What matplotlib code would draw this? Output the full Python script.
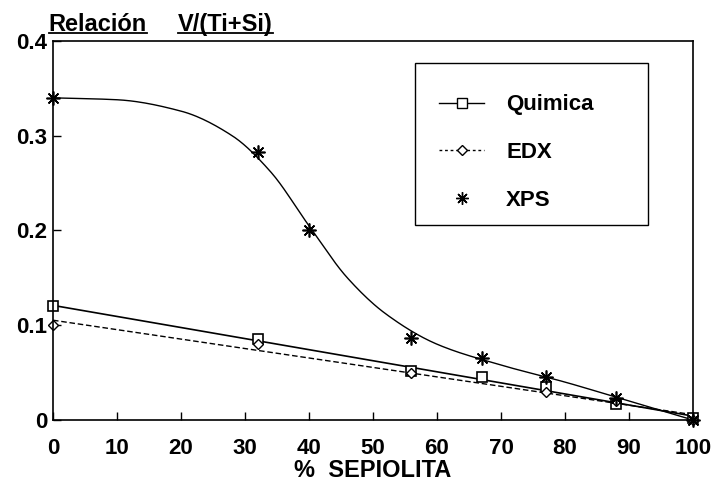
import numpy as np
import matplotlib
matplotlib.use("Agg")
import matplotlib.pyplot as plt
from matplotlib.lines import Line2D
from matplotlib.patches import Rectangle

plt.rcParams['font.family'] = ['Liberation Sans', 'DejaVu Sans']

# Data
quimica_x = [0, 32, 56, 67, 77, 88, 100]
quimica_y = [0.120, 0.085, 0.052, 0.045, 0.035, 0.017, 0.002]
edx_x = [0, 32, 56, 77, 88, 100]
edx_y = [0.100, 0.080, 0.050, 0.030, 0.020, 0.000]
xps_x = [0, 32, 40, 56, 67, 77, 88, 100]
xps_y = [0.340, 0.283, 0.200, 0.087, 0.065, 0.045, 0.023, 0.000]
# smooth fitted curve for XPS, knots
xps_fit_x = [0, 10, 20, 28, 34, 40, 46, 52, 60, 70, 80, 90, 100]
xps_fit_y = [0.340, 0.338, 0.326, 0.300, 0.262, 0.205, 0.150, 0.112, 0.080, 0.058, 0.040, 0.020, 0.000]

x_ticks = [0, 10, 20, 30, 40, 50, 60, 70, 80, 90, 100]
y_ticks = [0, 0.1, 0.2, 0.3, 0.4]
y_ticklabels = ['0', '0.1', '0.2', '0.3', '0.4']


def pchip(x, y, xs):
    x = np.asarray(x, float); y = np.asarray(y, float)
    h = np.diff(x); d = np.diff(y) / h
    n = len(x); m = np.zeros(n)
    for k in range(1, n - 1):
        if d[k - 1] * d[k] > 0:
            w1 = 2 * h[k] + h[k - 1]; w2 = h[k] + 2 * h[k - 1]
            m[k] = (w1 + w2) / (w1 / d[k - 1] + w2 / d[k])
    m[0] = d[0]; m[-1] = d[-1]
    idx = np.clip(np.searchsorted(x, xs) - 1, 0, n - 2)
    t = (xs - x[idx]) / h[idx]
    h00 = 2 * t**3 - 3 * t**2 + 1; h10 = t**3 - 2 * t**2 + t
    h01 = -2 * t**3 + 3 * t**2; h11 = t**3 - t**2
    return h00 * y[idx] + h10 * h[idx] * m[idx] + h01 * y[idx + 1] + h11 * h[idx] * m[idx + 1]


fig = plt.figure(figsize=(7.17, 4.87), dpi=100)
ax = fig.add_axes([0.0739, 0.1376, 0.8926, 0.7782])

xs = np.linspace(0, 100, 300)
# linear fits
pq = np.polyfit(quimica_x, quimica_y, 1)
pe = np.polyfit(edx_x, edx_y, 1)
ax.plot(xs, np.polyval(pq, xs), color='black', lw=1.2)
ax.plot(xs, np.polyval(pe, xs), color='black', lw=1.0, ls=(0, (4, 2)))
ax.plot(xs, pchip(xps_fit_x, xps_fit_y, xs), color='black', lw=1.0)

ax.plot(quimica_x, quimica_y, ls='none', marker='s', mfc='white', mec='black', ms=7.5, mew=1.2, clip_on=False)
ax.plot(edx_x, edx_y, ls='none', marker='D', mfc='white', mec='black', ms=5.5, mew=1.0, clip_on=False)
ax.plot(xps_x, xps_y, ls='none', marker=(8, 2, 0), color='black', ms=10, mew=1.2, clip_on=False)

ax.set_xlim(0, 100)
ax.set_ylim(0, 0.4)
ax.set_xticks(x_ticks)
ax.set_xticklabels([str(v) for v in x_ticks])
ax.set_yticks(y_ticks)
ax.set_yticklabels(y_ticklabels)
ax.tick_params(direction='in', length=6, width=1, labelsize=16)
ax.tick_params(axis='x', pad=13)
ax.tick_params(axis='y', pad=4)
for lab in ax.get_xticklabels() + ax.get_yticklabels():
    lab.set_fontweight('bold')
for s in ax.spines.values():
    s.set_linewidth(1.2)
ax.set_xlabel('%  SEPIOLITA', fontsize=17, fontweight='bold', labelpad=0)

handles = [
    Line2D([], [], color='black', lw=1.0, marker='s', mfc='white', mec='black', ms=7),
    Line2D([], [], color='black', lw=1.0, ls=(0, (2, 2)), marker='D', mfc='white', mec='black', ms=5),
    Line2D([], [], ls='none', marker=(8, 2, 0), color='black', ms=9),
]
x0a, x1a = (415 - 53) / 640, (648 - 53) / 640
y1a, y0a = (420 - 63) / 379, (420 - 225) / 379
ax.add_patch(Rectangle((x0a, y0a), x1a - x0a, y1a - y0a, transform=ax.transAxes,
                       fill=False, edgecolor='black', lw=1.0, zorder=5))
leg = ax.legend(handles, ['Quimica', 'EDX', 'XPS'], loc='upper left',
                bbox_to_anchor=(x0a, (420 - 70) / 379), frameon=False,
                borderaxespad=0, prop={'size': 16, 'weight': 'bold'}, handlelength=2.0,
                labelspacing=1.2, borderpad=1.1, handletextpad=1.0)

t1 = fig.text(0.068, 0.936, 'Relación', fontsize=17, fontweight='bold', va='baseline')
t2 = fig.text(0.248, 0.936, 'V/(Ti+Si)', fontsize=17, fontweight='bold', va='baseline')
fig.canvas.draw()
r = fig.canvas.get_renderer()
inv = fig.transFigure.inverted()
for t in (t1, t2):
    bb = t.get_window_extent(r)
    (x0, y0), (x1, y1) = inv.transform([[bb.x0, bb.y0], [bb.x1, bb.y1]])
    fig.add_artist(Line2D([x0, x1], [y0 + 0.006, y0 + 0.006], color='black', lw=1.3, transform=fig.transFigure))

fig.savefig('out.png', dpi=100)
